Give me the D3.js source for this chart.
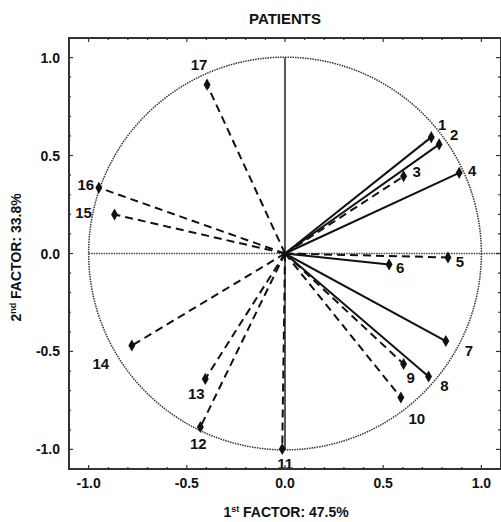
<!DOCTYPE html>
<html lang="en">
<head>
    <meta charset="UTF-8">
    <title>PATIENTS</title>
    <script src="https://cdn.jsdelivr.net/npm/d3@7"></script>
    <style>
        body { margin: 0; background: #fff; }
        text { font-family: "Liberation Sans", Arial, sans-serif; fill: #111; }
        text.lab { font-family: "Liberation Sans Narrow", "Arial Narrow", "Liberation Sans", sans-serif; }
    </style>
</head>
<body>
<script>

    // patients, coordinates on the two factors
    var ids     = ["1","2","3","4","5","6","7","8","9","10","11","12","13","14","15","16","17"];
    var factor1 = [0.745, 0.785, 0.604, 0.887, 0.83, 0.53, 0.819, 0.731, 0.604, 0.59, -0.014, -0.431, -0.406, -0.78, -0.868, -0.948, -0.397];
    var factor2 = [0.594, 0.557, 0.394, 0.412, -0.02, -0.056, -0.447, -0.628, -0.564, -0.735, -0.998, -0.886, -0.64, -0.47, 0.199, 0.336, 0.862];
    var solid   = [true, true, false, true, false, true, true, true, false, false, false, false, false, false, false, false, false];
    var tickValues = [-1.0, -0.5, 0.0, 0.5, 1.0];

    // label offsets in px (dx, dy) around each point
    var labelDx = [11, 15, 13, 13, 12, 11, 23, 16, 7, 16, 3, -2, -9, -31, -31, -13, -8];
    var labelDy = [-13, -10, -5, -2, 4, 3, 9, 9, 14, 21, 14, 16, 15, 18, -2, -3, -20];

    var width = 501, height = 522;
    var padL = 69, padR = 501, padT = 38, padB = 469;

    var svg = d3.select("body").append("svg")
        .attr("width", width)
        .attr("height", height);

    var x = d3.scaleLinear().domain([-1.1, 1.1]).range([padL, padR]);
    var y = d3.scaleLinear().domain([-1.1, 1.1]).range([padB, padT]);

    // unit circle
    svg.append("circle")
        .attr("cx", x(0)).attr("cy", y(0))
        .attr("r", x(1) - x(0))
        .attr("fill", "none")
        .attr("stroke", "#333")
        .attr("stroke-width", 1.5)
        .attr("stroke-dasharray", "1.5,1");

    // reference lines
    svg.append("line")
        .attr("x1", x(-1)).attr("x2", x(1.1))
        .attr("y1", y(0)).attr("y2", y(0))
        .attr("stroke", "#444").attr("stroke-width", 1.3)
        .attr("stroke-dasharray", "1.5,1");
    svg.append("line")
        .attr("x1", x(0)).attr("x2", x(0))
        .attr("y1", y(1)).attr("y2", y(-1))
        .attr("stroke", "#222").attr("stroke-width", 1.5);

    // vectors
    svg.selectAll("line.vec")
        .data(ids)
        .enter().append("line")
        .attr("class", "vec")
        .attr("x1", x(0)).attr("y1", y(0))
        .attr("x2", function (d, i) { return x(factor1[i]); })
        .attr("y2", function (d, i) { return y(factor2[i]); })
        .attr("stroke", "#111")
        .attr("stroke-width", 2)
        .attr("stroke-dasharray", function (d, i) { return solid[i] ? null : "8,5"; });

    // markers
    svg.selectAll("path.pt")
        .data(ids)
        .enter().append("path")
        .attr("class", "pt")
        .attr("d", d3.symbol().type(d3.symbolDiamond).size(42))
        .attr("transform", function (d, i) {
            return "translate(" + x(factor1[i]) + "," + y(factor2[i]) + ")";
        })
        .attr("fill", "#111");

    // point labels
    svg.selectAll("text.lab")
        .data(ids)
        .enter().append("text")
        .attr("class", "lab")
        .attr("x", function (d, i) { return x(factor1[i]) + labelDx[i]; })
        .attr("y", function (d, i) { return y(factor2[i]) + labelDy[i]; })
        .attr("text-anchor", "middle")
        .attr("dominant-baseline", "central")
        .style("font-size", "15px")
        .style("font-weight", "bold")
        .text(function (d) { return d; });

    // frame
    svg.append("rect")
        .attr("x", padL).attr("y", padT)
        .attr("width", padR - padL).attr("height", padB - padT)
        .attr("fill", "none")
        .attr("stroke", "#333")
        .attr("stroke-width", 2);

    // ticks (inside, all four sides)
    var minor = d3.range(-11, 12).map(function (k) { return k / 10; });
    var tickG = svg.append("g").attr("stroke", "#333").attr("stroke-width", 1.2);
    minor.forEach(function (v) {
        var major = Math.abs(v * 2 - Math.round(v * 2)) < 1e-6;
        var len = major ? 4 : 2;
        tickG.append("line").attr("x1", x(v)).attr("x2", x(v)).attr("y1", padB).attr("y2", padB - len);
        tickG.append("line").attr("x1", x(v)).attr("x2", x(v)).attr("y1", padT).attr("y2", padT + len);
        tickG.append("line").attr("y1", y(v)).attr("y2", y(v)).attr("x1", padL).attr("x2", padL + len);
        tickG.append("line").attr("y1", y(v)).attr("y2", y(v)).attr("x1", padR - 1).attr("x2", padR - 1 - len);
    });

    // tick labels
    svg.selectAll("text.xt")
        .data(tickValues)
        .enter().append("text")
        .attr("x", function (d) { return x(d); })
        .attr("y", padB + 19)
        .attr("text-anchor", "middle")
        .style("font-size", "14px")
        .style("font-weight", "bold")
        .text(function (d) { return d3.format(".1f")(d).replace("−", "-"); });
    svg.selectAll("text.yt")
        .data(tickValues)
        .enter().append("text")
        .attr("x", padL - 9)
        .attr("y", function (d) { return y(d); })
        .attr("text-anchor", "end")
        .attr("dominant-baseline", "central")
        .style("font-size", "14px")
        .style("font-weight", "bold")
        .text(function (d) { return d3.format(".1f")(d).replace("−", "-"); });

    // title and axis titles
    svg.append("text")
        .attr("x", x(0)).attr("y", 24)
        .attr("text-anchor", "middle")
        .style("font-size", "15px")
        .style("font-weight", "bold")
        .text("PATIENTS");

    var xl = svg.append("text")
        .attr("x", x(0) + 1).attr("y", 517)
        .attr("text-anchor", "middle")
        .style("font-size", "14px")
        .style("font-weight", "bold");
    xl.append("tspan").text("1");
    xl.append("tspan").attr("dy", -5).style("font-size", "9px").text("st");
    xl.append("tspan").attr("dy", 5).text(" FACTOR: 47.5%");

    var yl = svg.append("text")
        .attr("transform", "translate(21," + (y(0) + 4) + ") rotate(-90)")
        .attr("text-anchor", "middle")
        .style("font-size", "14px")
        .style("font-weight", "bold");
    yl.append("tspan").text("2");
    yl.append("tspan").attr("dy", -5).style("font-size", "9px").text("nd");
    yl.append("tspan").attr("dy", 5).text(" FACTOR: 33.8%");

</script>
</body>
</html>
